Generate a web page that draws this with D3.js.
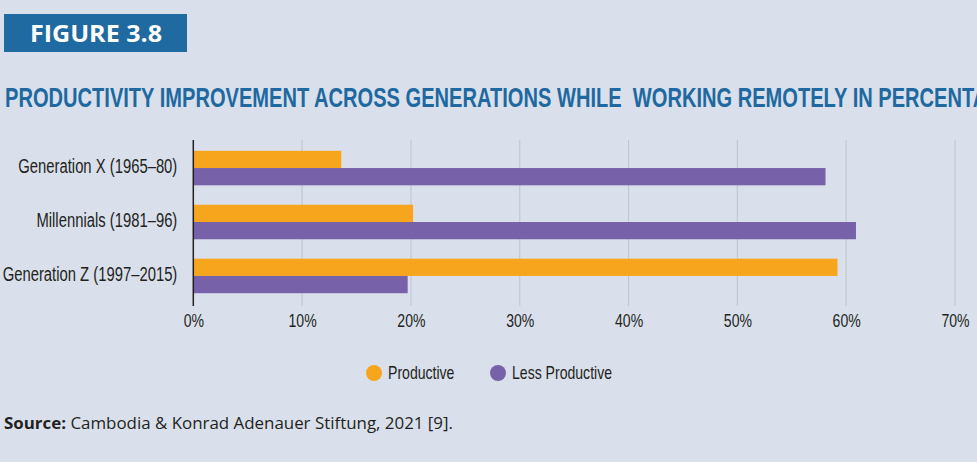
<!DOCTYPE html>
<html lang="en">
	<head>
		<meta charset="utf-8">
		<title>Figure 3.8</title>
		<script src="https://d3js.org/d3.v7.min.js"></script>
		<style type="text/css">
			body { margin: 0; background: #d9e0ec; }
			svg { display: block; }
			.cond { font-family: "Liberation Sans", Arial, sans-serif; }
		</style>
	</head>
	<body>
		<script type="text/javascript">

			// data
			var generations = ["Generation X (1965\u201380)", "Millennials (1981\u201396)", "Generation Z (1997\u20132015)"];
			var productive = [13.6, 20.2, 59.2];
			var lessProductive = [58.1, 60.9, 19.7];
			var seriesNames = ["Productive", "Less Productive"];
			var seriesColors = ["#f7a51d", "#7761a9"];
			var xTicks = [0, 10, 20, 30, 40, 50, 60, 70];

			var w = 977;
			var h = 462;

			// no condensed font here, so squeeze text to the widths seen in the figure
			var squeeze = 0.76;
			function condense(sel) {
				sel.each(function () {
					var natural = this.getComputedTextLength();
					d3.select(this)
					  .attr("textLength", natural * squeeze)
					  .attr("lengthAdjust", "spacingAndGlyphs");
				});
			}

			var svg = d3.select("body")
						.append("svg")
						.attr("width", w)
						.attr("height", h);

			svg.append("rect")
			   .attr("width", w)
			   .attr("height", h)
			   .attr("fill", "#d9e0ec");

			// figure tag
			svg.append("rect")
			   .attr("x", 4)
			   .attr("y", 14)
			   .attr("width", 183)
			   .attr("height", 38)
			   .attr("fill", "#1f6aa0");

			svg.append("text")
			   .attr("x", 30)
			   .attr("y", 42)
			   .attr("fill", "#fff")
			   .style("font-family", "'Open Sans', sans-serif")
			   .style("font-weight", "bold")
			   .style("font-size", "24px")
			   .attr("textLength", 132)
			   .attr("lengthAdjust", "spacingAndGlyphs")
			   .text("FIGURE 3.8");

			var title = svg.append("text")
						   .attr("class", "cond")
						   .attr("x", 5)
						   .attr("y", 107)
						   .attr("fill", "#2068a0")
						   .style("font-weight", "bold")
						   .style("font-size", "28px")
						   .style("white-space", "pre")
						   .text("PRODUCTIVITY IMPROVEMENT ACROSS GENERATIONS WHILE  WORKING REMOTELY IN PERCENTAGE");
			// the first three words run 395px wide in the figure
			var probe = svg.append("text")
						   .attr("class", "cond")
						   .style("font-weight", "bold")
						   .style("font-size", "28px")
						   .text("PRODUCTIVITY IMPROVEMENT ACROSS");
			var titleFactor = 395 / probe.node().getComputedTextLength();
			probe.remove();
			title.attr("textLength", title.node().getComputedTextLength() * titleFactor)
				 .attr("lengthAdjust", "spacingAndGlyphs");

			// scales
			var x = d3.scaleLinear()
					  .domain([0, 70])
					  .range([193.3, 955]);

			var y0 = d3.scaleBand()
					   .domain(generations)
					   .range([140, 304])
					   .paddingInner(0.36)
					   .paddingOuter(0.2);

			var y1 = d3.scaleBand()
					   .domain(seriesNames)
					   .range([0, y0.bandwidth()]);

			// gridlines
			svg.append("g")
			   .selectAll("line")
			   .data(xTicks.slice(1))
			   .enter()
			   .append("line")
			   .attr("x1", function (d) { return x(d); })
			   .attr("x2", function (d) { return x(d); })
			   .attr("y1", 140)
			   .attr("y2", 306)
			   .attr("stroke", "#c3c8d0")
			   .attr("stroke-width", 1.2);

			// bars
			var rows = generations.map(function (g, i) {
				return { name: g, values: [productive[i], lessProductive[i]] };
			});

			var groups = svg.append("g")
							.selectAll("g")
							.data(rows)
							.enter()
							.append("g")
							.attr("transform", function (d) { return "translate(0," + y0(d.name) + ")"; });

			groups.selectAll("rect")
				  .data(function (d) { return d.values.map(function (v, j) { return { s: seriesNames[j], v: v, c: seriesColors[j] }; }); })
				  .enter()
				  .append("rect")
				  .attr("x", x(0))
				  .attr("y", function (d) { return y1(d.s); })
				  .attr("width", function (d) { return x(d.v) - x(0); })
				  .attr("height", y1.bandwidth())
				  .attr("fill", function (d) { return d.c; });

			// axes
			var xAxis = d3.axisBottom(x)
						  .tickValues(xTicks)
						  .tickSize(0)
						  .tickPadding(8)
						  .tickFormat(function (d) { return d + "%"; });

			var gx = svg.append("g")
						.attr("class", "cond")
						.attr("transform", "translate(0,306)")
						.call(xAxis);
			gx.select(".domain").remove();
			gx.selectAll("text")
			  .attr("fill", "#231f20")
			  .style("font-size", "18.5px")
			  .call(condense);

			var yAxis = d3.axisLeft(y0)
						  .tickSize(0)
						  .tickPadding(16)
						  .tickSizeOuter(0);

			var gy = svg.append("g")
						.attr("class", "cond")
						.attr("transform", "translate(" + x(0) + ",0)")
						.call(yAxis);
			gy.select(".domain")
			  .attr("stroke", "#231f20")
			  .attr("stroke-width", 1.5)
			  .attr("d", "M0,140V306");
			gy.selectAll("text")
			  .attr("fill", "#231f20")
			  .attr("dy", "0.24em")
			  .style("font-size", "19.5px")
			  .call(condense);

			// legend
			var legendX = [374, 498];
			var legend = svg.append("g")
							.attr("class", "cond")
							.selectAll("g")
							.data(seriesNames)
							.enter()
							.append("g")
							.attr("transform", function (d, i) { return "translate(" + legendX[i] + ",373)"; });

			legend.append("circle")
				  .attr("r", 8)
				  .attr("fill", function (d, i) { return seriesColors[i]; });

			legend.append("text")
				  .attr("x", 14)
				  .attr("y", 6)
				  .attr("fill", "#231f20")
				  .style("font-size", "18.5px")
				  .text(function (d) { return d; })
				  .call(condense);

			// source note
			var src = svg.append("text")
						 .attr("x", 4)
						 .attr("y", 429)
						 .attr("fill", "#231f20")
						 .style("font-family", "'Open Sans', sans-serif")
						 .style("font-size", "16px");
			src.append("tspan")
			   .style("font-weight", "bold")
			   .text("Source:");
			src.append("tspan")
			   .text(" Cambodia & Konrad Adenauer Stiftung, 2021 [9].");
			src.attr("textLength", 449)
			   .attr("lengthAdjust", "spacingAndGlyphs");

		</script>
	</body>
</html>
